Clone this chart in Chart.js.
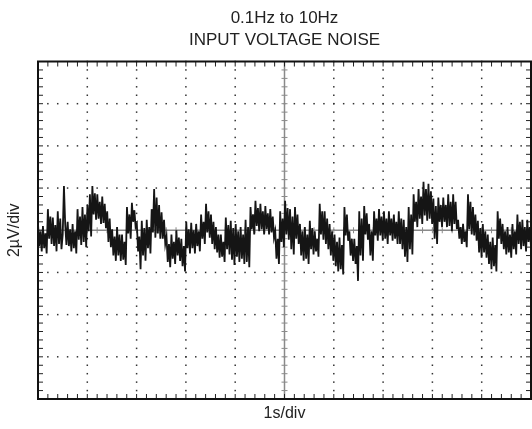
<!DOCTYPE html>
<html lang="en">
<head>
    <meta charset="UTF-8">
    <title>Input voltage noise</title>
    <script src="https://cdn.jsdelivr.net/npm/chart.js@4.4.1/dist/chart.umd.min.js"></script>
    <style>
        html, body { margin: 0; padding: 0; background: #fff; }
        #wrap { width: 532px; height: 429px; }
    </style>
</head>
<body>
<div id="wrap"><canvas id="myChart" width="532" height="429"></canvas></div>
<script>
    // noise trace in uV, one array per horizontal division (1 s)
    const sec0 = [0.3,-0.75,-0.05,-1.0, 0.2,-0.85,-0.15,-1.1, 1.0,-0.4,0.65,-0.65, 0.6,-0.75,0.25,-1.0, 0.9,-0.65,0.55,-0.9,
                  -0.2,2.1,0.3,-0.7, 0.4,-0.75,0.05,-1.0, 0.3,-0.85,-0.05,-1.1, 1.0,-0.45,0.65,-0.7, 1.1,-0.55,0.75,-0.8];
    const sec1 = [1.2,-0.05,1.7,-0.3, 2.1,0.75,1.75,0.5, 1.7,0.55,1.35,0.3, 1.6,0.35,1.25,0.1, 0.9,-0.55,0.55,-0.8,
                  0.05,-1.2,-0.3,-1.45, 0.15,-1.2,-0.2,-1.45, -0.2,-1.4,-0.55,-1.65, 1.1,-0.15,0.75,-0.4, 1.3,0.4,0.95,0.15];
    const sec2 = [0.3,-1.0,-0.3,-1.85, 0.45,-1.2,0.1,-1.45, 0.5,-0.85,0.15,-1.1, 1.0,-0.1,1.95,-0.35, 1.55,-0.15,1.2,-0.4,
                  0.85,-0.4,0.5,-0.65, -0.3,-1.5,-0.65,-1.75, -0.2,-1.35,-0.55,-1.6, 0.0,-1.2,-0.35,-1.45, -0.4,-1.7,-0.75,-1.95];
    const sec3 = [0.4,-0.85,0.05,-1.1, 0.35,-0.85,0.0,-1.1, 0.3,-0.75,-0.05,-1.0, 0.75,-0.4,0.4,-0.65, 1.25,-0.1,0.9,-0.35,
                  0.75,-0.65,0.4,-0.9, 0.15,-1.05,-0.2,-1.3, -0.2,-1.25,-0.55,-1.5, 0.6,-0.9,0.25,-1.15, 0.45,-1.4,0.1,-1.65];
    const sec4 = [0.3,-1.25,-0.05,-1.5, 0.15,-1.35,-0.2,-1.6, 0.5,-1.5,0.15,-1.75, 1.1,0.05,0.75,-0.2, 1.4,0.2,1.05,-0.05,
                  1.25,0.05,0.9,-0.2, 1.15,0.05,0.8,-0.2, 1.0,-0.1,0.65,-0.35, -0.05,-1.35,-0.4,-1.6, 0.9,-0.55,0.55,-0.8];
    const sec5 = [1.4,-0.2,1.05,-0.45, 1.0,-0.9,0.65,-1.15, 1.1,-0.4,0.75,-0.65, 0.3,-1.2,-0.05,-1.45, 0.15,-1.35,-0.2,-1.6,
                  0.45,-0.9,0.1,-1.15, -0.05,-1.0,-0.4,-1.25, 1.25,-0.2,0.9,-0.45, 0.9,-0.65,0.55,-0.9, 0.3,-1.2,-0.05,-1.45];
    const sec6 = [-0.2,-1.7,-0.55,-1.95, -0.35,-1.85,-0.7,-2.1, 1.1,-0.25,0.75,-0.5, -0.05,-1.2,-0.4,-1.45, -0.4,-1.6,-0.75,-2.4,
                  0.9,-1.2,0.55,-1.45, 1.15,-0.2,0.8,-0.45, 0.3,-1.2,-0.05,-1.45, 0.9,-0.25,0.55,-0.5, 1.0,-0.25,0.65,-0.5];
    const sec7 = [0.9,-0.4,0.55,-0.65, 0.9,-0.25,0.55,-0.5, 0.75,-0.4,0.4,-0.65, 0.9,-0.65,0.55,-0.9, 0.5,-1.25,0.15,-1.5,
                  1.1,-0.9,0.75,-1.15, 1.7,0.4,1.35,0.15, 1.95,0.55,1.6,0.3, 2.3,0.7,1.95,0.45, 2.2,0.55,1.85,0.3];
    const sec8 = [1.5,-0.4,1.15,-0.65, 1.55,0.4,1.2,0.15, 1.55,0.4,1.2,0.15, 1.7,0.2,1.35,-0.05, 1.7,0.3,1.35,0.05,
                  0.5,-0.4,0.15,-0.65, 0.3,-0.55,-0.05,-0.8, 1.7,0.05,1.35,-0.2, 1.1,-0.25,0.75,-0.5, 0.45,-1.05,0.1,-1.3];
    const sec9 = [0.3,-1.05,-0.05,-1.3, -0.2,-1.6,-0.55,-1.85, -0.35,-1.7,-0.7,-1.95, 0.9,-0.4,0.55,-0.65, 0.3,-0.9,-0.05,-1.15,
                  0.15,-1.05,-0.2,-1.3, 0.3,-0.9,-0.05,-1.15, 0.75,-0.65,0.4,-0.9, 0.5,-0.75,0.15,-1.0, 0.5,-0.55,0.15,-0.8];

    const titleLines = ['0.1Hz to 10Hz', 'INPUT VOLTAGE NOISE'];
    const xLabel = '1s/div';
    const yLabel = '2µV/div';
    const xDivs = 10;   // seconds across the screen
    const yHalf = 8;    // uV, 8 divisions of 2 uV

    const noise = [].concat(sec0, sec1, sec2, sec3, sec4, sec5, sec6, sec7, sec8, sec9);
    const points = noise.map((v, i) => ({ x: i * xDivs / (noise.length - 1), y: v }));

    const FONT = '"Liberation Sans", Arial, Helvetica, sans-serif';

    // scope style graticule: dotted grid, grey centre axes with minor ticks, heavy frame
    const scopeGrid = {
        id: 'scopeGrid',
        beforeDatasetsDraw(chart) {
            const { ctx, chartArea: a, scales: { x, y } } = chart;
            ctx.save();
            ctx.fillStyle = '#333';
            for (let i = 1; i < xDivs; i++) {
                if (i === xDivs / 2) continue;
                const px = x.getPixelForValue(i);
                for (let k = 0; k <= 40; k++) {
                    const py = y.getPixelForValue(-yHalf + k * 0.4);
                    ctx.fillRect(px - 0.75, py - 0.75, 1.5, 1.5);
                }
            }
            for (let j = -6; j <= 6; j += 2) {
                if (j === 0) continue;
                const py = y.getPixelForValue(j);
                for (let k = 0; k <= 50; k++) {
                    const px = x.getPixelForValue(k * 0.2);
                    ctx.fillRect(px - 0.75, py - 0.75, 1.5, 1.5);
                }
            }
            // centre axes
            const cx = x.getPixelForValue(xDivs / 2);
            const cy = y.getPixelForValue(0);
            ctx.strokeStyle = '#8a8a8a';
            ctx.lineWidth = 1.5;
            ctx.beginPath();
            ctx.moveTo(a.left, cy); ctx.lineTo(a.right, cy);
            ctx.moveTo(cx, a.top); ctx.lineTo(cx, a.bottom);
            ctx.stroke();
            ctx.lineWidth = 1;
            ctx.beginPath();
            for (let k = 1; k < 50; k++) {
                const px = x.getPixelForValue(k * 0.2);
                ctx.moveTo(px, cy - 3); ctx.lineTo(px, cy + 3);
            }
            for (let k = 1; k < 40; k++) {
                const py = y.getPixelForValue(-yHalf + k * 0.4);
                ctx.moveTo(cx - 3, py); ctx.lineTo(cx + 3, py);
            }
            ctx.stroke();
            // frame ticks
            ctx.strokeStyle = '#222';
            ctx.lineWidth = 1;
            ctx.beginPath();
            for (let k = 1; k < 50; k++) {
                const px = x.getPixelForValue(k * 0.2);
                ctx.moveTo(px, a.top); ctx.lineTo(px, a.top + 5);
                ctx.moveTo(px, a.bottom); ctx.lineTo(px, a.bottom - 5);
            }
            for (let k = 1; k < 40; k++) {
                const py = y.getPixelForValue(-yHalf + k * 0.4);
                ctx.moveTo(a.left, py); ctx.lineTo(a.left + 5, py);
                ctx.moveTo(a.right, py); ctx.lineTo(a.right - 5, py);
            }
            ctx.stroke();
            ctx.restore();
        },
        afterDatasetsDraw(chart) {
            const { ctx, chartArea: a } = chart;
            ctx.save();
            ctx.strokeStyle = '#111';
            ctx.lineWidth = 2;
            ctx.strokeRect(a.left, a.top, a.right - a.left, a.bottom - a.top);
            // axis captions
            ctx.fillStyle = '#222';
            ctx.font = '16px ' + FONT;
            ctx.textAlign = 'center';
            ctx.textBaseline = 'middle';
            ctx.fillText(xLabel, (a.left + a.right) / 2, 414);
            ctx.translate(15, (a.top + a.bottom) / 2);
            ctx.rotate(-Math.PI / 2);
            ctx.fillText(yLabel, 0, 0);
            ctx.restore();
        }
    };

    const ctx = document.getElementById('myChart').getContext('2d');
    const myChart = new Chart(ctx, {
        type: 'line',
        data: {
            datasets: [{
                data: points,
                borderColor: '#151515',
                borderWidth: 1.8,
                pointRadius: 0,
                tension: 0,
                fill: false
            }]
        },
        options: {
            responsive: false,
            animation: false,
            layout: { padding: { left: 38, right: 1, top: 0, bottom: 30 } },
            plugins: {
                legend: { display: false },
                tooltip: { enabled: false },
                title: {
                    display: true,
                    text: titleLines,
                    color: '#222',
                    font: { family: FONT, size: 17, weight: 'normal', lineHeight: 1.25 },
                    padding: { top: 8, bottom: 11 }
                }
            },
            scales: {
                x: { type: 'linear', min: 0, max: xDivs, display: false },
                y: { type: 'linear', min: -yHalf, max: yHalf, display: false }
            }
        },
        plugins: [scopeGrid]
    });
</script>
</body>
</html>
